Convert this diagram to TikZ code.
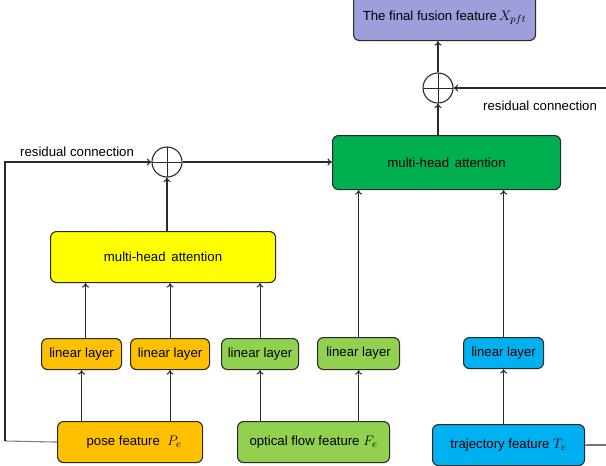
\documentclass[tikz,border=0pt]{standalone}
\usepackage{fontspec}
\setmainfont{Liberation Sans}
\usetikzlibrary{arrows.meta}
\definecolor{lav}{HTML}{9E9EDC}
\definecolor{gmha}{HTML}{00B050}
\definecolor{yel}{HTML}{FFFF00}
\definecolor{org}{HTML}{FFC000}
\definecolor{lgreen}{HTML}{92D050}
\definecolor{blu}{HTML}{00B0F0}
\definecolor{edge}{HTML}{2A2A2A}
\newcommand{\mymath}[1]{\scalebox{1.15}{$#1$}}
\begin{document}
\begin{tikzpicture}[x=1pt,y=-1pt,
  box/.style={draw=edge,line width=1.1pt,rounded corners=6pt,inner sep=0pt,font=\fontsize{13.2}{15}\selectfont},
  arr/.style={draw=edge,line width=1.1pt,-{To[length=4.5pt,width=7pt]}},
  ln/.style={draw=edge,line width=1.1pt},
  plus/.style={circle,draw=edge,line width=1.1pt,minimum size=30pt,inner sep=0pt,
    path picture={\draw[edge,line width=0.7pt] (path picture bounding box.north)--(path picture bounding box.south) (path picture bounding box.west)--(path picture bounding box.east);}},
  lab/.style={font=\fontsize{13.2}{15}\selectfont,inner sep=0pt}]
\useasboundingbox (0,0) rectangle (606,466);
% boxes
\node[box,fill=lav,minimum width=182pt,minimum height=46pt,anchor=north west] (fin) at (353,-6) {\raisebox{-3pt}{The final fusion feature$\,$\mymath{X_{pft}}}};
\node[plus] (p2) at (438,88) {};
\node[box,fill=gmha,minimum width=228pt,minimum height=54pt,anchor=north west] (mha2) at (332,135) {multi-head\, attention};
\node[plus] (p1) at (167,162) {};
\node[box,fill=yel,minimum width=225pt,minimum height=51pt,anchor=north west] (mha1) at (50,231) {multi-head\, attention};
\node[box,fill=org,minimum width=80pt,minimum height=31pt,anchor=north west] (l1) at (41,338) {linear layer};
\node[box,fill=org,minimum width=79pt,minimum height=31pt,anchor=north west] (l2) at (130,338) {linear layer};
\node[box,fill=lgreen,minimum width=77pt,minimum height=31pt,anchor=north west] (l3) at (221,338) {linear layer};
\node[box,fill=lgreen,minimum width=82pt,minimum height=32pt,anchor=north west] (l4) at (317,337) {linear layer};
\node[box,fill=blu,minimum width=80pt,minimum height=31pt,anchor=north west] (l5) at (463,337) {linear layer};
\node[box,fill=org,minimum width=145pt,minimum height=41pt,anchor=north west] (pose) at (57,421) {\hspace*{8pt}pose feature\; \mymath{P_e}};
\node[box,fill=lgreen,minimum width=152pt,minimum height=41pt,anchor=north west] (flow) at (237,421) {optical flow feature \mymath{F_e}};
\node[box,fill=blu,minimum width=152pt,minimum height=41pt,anchor=north west] (traj) at (432,424) {trajectory feature \mymath{T_e}};
% labels
\node[lab,anchor=west] (r1) at (20,152) {residual connection};
\node[lab,anchor=west] (r2) at (483,106) {residual connection};
% coordinates
\coordinate (lc) at (5,162);
\coordinate (lb) at (5,441);
\coordinate (rc) at (612,88);
\coordinate (rb) at (612,445);
% connectors
\draw[arr] (pose.north -| l1) -- (l1.south);
\draw[arr] (pose.north -| l2) -- (l2.south);
\draw[arr] (flow.north -| l3) -- (l3.south);
\draw[arr] (flow.north -| l4) -- (l4.south);
\draw[arr] (traj.north -| l5) -- (l5.south);
\draw[arr] ([xshift=4pt]l1.north) -- ([xshift=4pt]l1.north |- mha1.south);
\draw[arr] (l2.north) -- (l2.north |- mha1.south);
\draw[arr] (l3.north) -- (l3.north |- mha1.south);
\draw[arr] (l4.north) -- (l4.north |- mha2.south);
\draw[arr] (l5.north) -- (l5.north |- mha2.south);
\draw[arr] (mha1.north -| p1) -- (p1.south);
\draw[arr] (p1.east) -- (p1.east -| mha2.west);
\draw[ln,draw=gray] (pose.west) -- (lb);
\draw[arr] (lb) -- (lc) -- (p1.west);
\draw[ln] (traj.east) -- (rb) -- (rc);
\draw[arr] (rc) -- (p2.east);
\draw[arr] (mha2.north -| p2) -- (p2.south);
\draw[arr] (p2.north) -- (fin.south -| p2);
\end{tikzpicture}
\end{document}
